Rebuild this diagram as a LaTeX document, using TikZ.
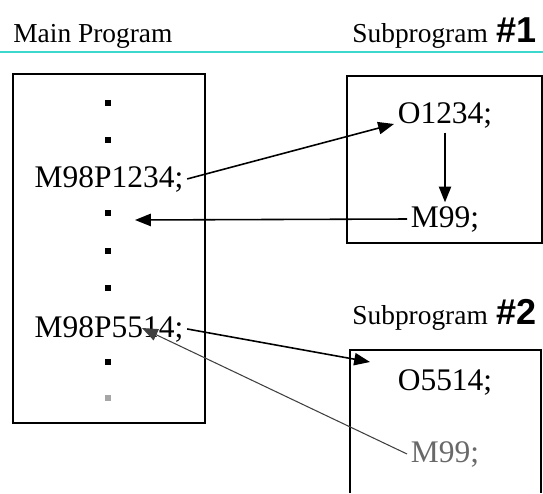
\documentclass[tikz,border=0pt]{standalone}
\usepackage{fontspec}
\setmainfont{Liberation Serif}
\newfontfamily\hashfont{Liberation Sans}
\usetikzlibrary{arrows.meta,positioning}
\definecolor{rulecyan}{RGB}{60,215,205}
\definecolor{scangray}{RGB}{105,105,105}

\begin{document}
\begin{tikzpicture}[x=0.02cm, y=-0.02cm,
  head/.style={font=\fontsize{15.6}{18}\selectfont, inner sep=0pt, anchor=base west},
  hash/.style={font=\hashfont\bfseries\fontsize{20.5}{23}\selectfont, inner sep=0pt, anchor=base west},
  code/.style={font=\fontsize{17.9}{21}\selectfont, inner sep=2pt, anchor=base},
  prog/.style={draw, line width=1.2pt},
  dotmark/.style={fill=black, minimum size=3pt, inner sep=0pt},
  arr/.style={-{Triangle[length=9pt,width=7pt]}, line width=0.9pt},
]
  \useasboundingbox (0,0) rectangle (543,493);

  % headings
  \node[head] (maintitle) at (13,43) {Main Program};
  \node[head] (sub1title) at (352,43) {Subprogram};
  \node[hash] (hash1) at (496,43) {\#1};
  \draw[rulecyan, line width=0.8pt] (0,52) -- (543,52);

  % main program
  \draw[prog] (13,74) rectangle (205,423);
  \foreach \i/\y in {1/103,2/140,3/213,4/251,5/288,6/362}
    \node[dotmark] (d\i) at (108,\y) {};
  \node[dotmark, fill=black!35] (d7) at (108,398) {};
  \node[code] (call1) at (109,187) {M98P1234;};
  \node[code] (call2) at (109,337) {M98P5514;};

  % subprogram 1
  \draw[prog] (347,76) rectangle (542,243);
  \node[code] (o1) at (445,124) {O1234;};
  \node[code] (m99a) at (445,227) {M99;};

  % subprogram 2
  \node[head] (sub2title) at (352,324) {Subprogram};
  \node[hash] (hash2) at (496,324) {\#2};
  \draw[prog] (350,493) -- (350,350) -- (541,350) -- (541,493);
  \node[code] (o2) at (445,390) {O5514;};
  \node[code, text=scangray] (m99b) at (445,462) {M99;};

  % calls and returns
  \coordinate (ret1) at (135,220);
  \coordinate (ent2) at (370,362);
  \coordinate (ret2) at (142,328);
  \draw[arr] (call1.east) -- (o1.base west);
  \draw[arr] (o1.south) -- (m99a.north);
  \draw[arr] (m99a.west) -- (ret1);
  \draw[arr] (call2.east) -- (ent2);
  \draw[arr, black!75, line width=0.6pt] (m99b.west) -- (ret2);
\end{tikzpicture}
\end{document}
